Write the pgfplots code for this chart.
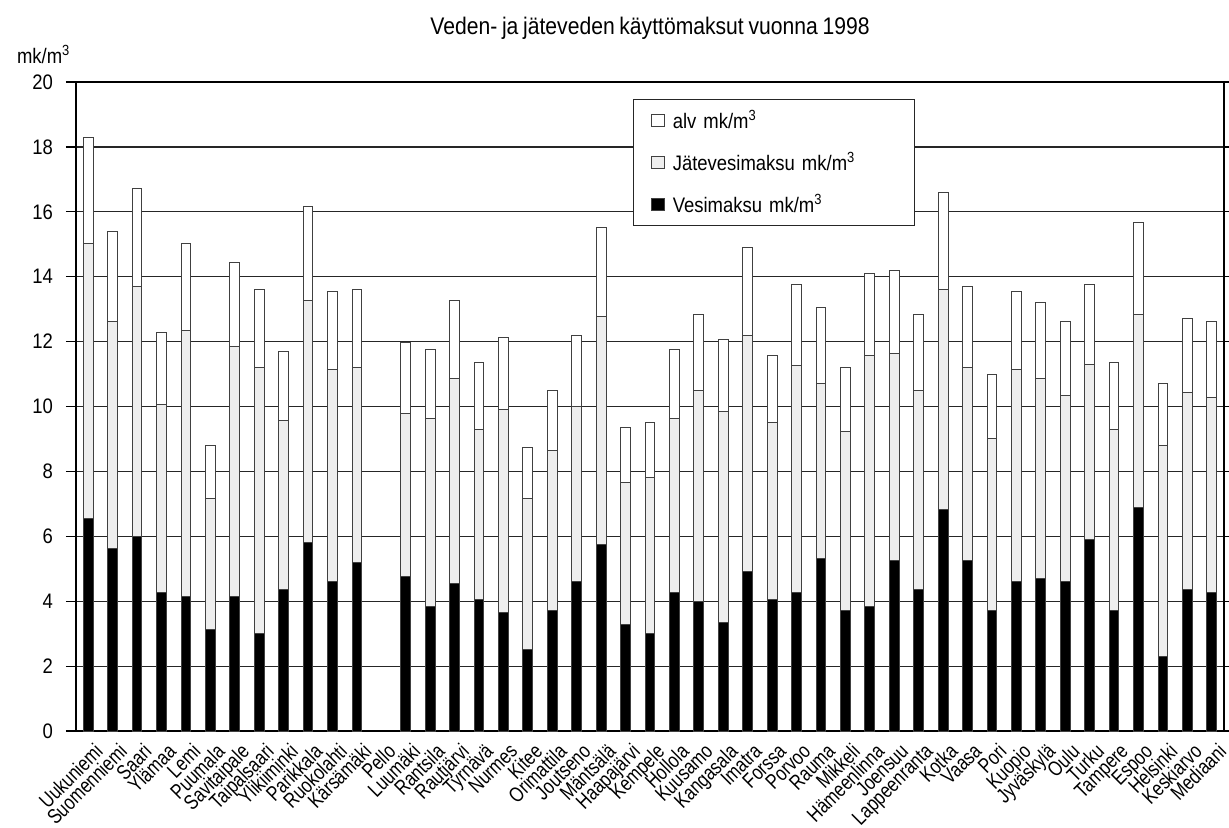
\documentclass[border=0pt]{standalone}
\usepackage{fontspec}
\setmainfont{Liberation Sans}[FakeStretch=0.88, WordSpace=0.8]
\newfontfamily\labelfont{Liberation Sans}[FakeStretch=0.8]
\usepackage{pgfplots}
\usepackage{pgfplotstable}
\pgfplotsset{compat=1.18}

% Water charges per municipality (mk/m3): water fee, wastewater fee, VAT
\pgfplotstableread{
x  vesi  jat   alv
0  6.54  8.49  3.27
1  5.62  6.99  2.78
2  5.98  7.71  3.03
3  4.27  5.80  2.20
4  4.13  8.21  2.69
5  3.13  4.03  1.64
6  4.13  7.71  2.61
7  3.00  8.21  2.40
8  4.35  5.22  2.13
9  5.82  7.44  2.90
10 4.62  6.53  2.39
11 5.19  6.02  2.40
12 0     0     0
13 4.77  5.02  2.19
14 3.84  5.80  2.13
15 4.55  6.31  2.40
16 4.06  5.23  2.06
17 3.64  6.28  2.20
18 2.51  4.65  1.57
19 3.70  4.95  1.85
20 4.62  5.38  2.20
21 5.76  7.01  2.75
22 3.28  4.39  1.69
23 3.00  4.81  1.69
24 4.27  5.37  2.13
25 3.99  6.51  2.34
26 3.35  6.51  2.19
27 4.91  7.28  2.70
28 4.06  5.44  2.06
29 4.27  7.00  2.48
30 5.33  5.38  2.34
31 3.71  5.51  1.99
32 3.84  7.72  2.54
33 5.26  6.38  2.54
34 4.35  6.15  2.34
35 6.83  6.78  2.98
36 5.26  5.95  2.48
37 3.71  5.30  1.98
38 4.62  6.51  2.41
39 4.69  6.17  2.33
40 4.62  5.73  2.28
41 5.90  5.38  2.47
42 3.71  5.58  2.06
43 6.89  5.95  2.82
44 2.29  6.50  1.92
45 4.35  6.08  2.27
46 4.27  6.02  2.34
}\maksut

\definecolor{jatgray}{HTML}{EEEEEE}
\definecolor{edge}{HTML}{404040}

\begin{document}
\begin{tikzpicture}
\useasboundingbox (-38pt,-48pt) rectangle (576.5pt,365.5pt);
\begin{axis}[
  name=ax,
  at={(0,0)}, anchor=south west,
  scale only axis,
  width=574pt, height=324.5pt,
  ybar stacked,
  bar width=0.4,
  xmin=-0.5, xmax=46.5,
  ymin=0, ymax=20,
  ytick={0,2,...,20},
  xtick={0,...,46},
  xticklabels={Uukuniemi,Suomenniemi,Saari,Ylämaa,Lemi,Puumala,Savitaipale,Taipalsaari,Ylikiiminki,Parikkala,Ruokolahti,Kärsämäki,Pello,Luumäki,Rantsila,Rautjärvi,Tyrnävä,Nurmes,Kitee,Orimattila,Joutseno,Mäntsälä,Haapajärvi,Kempele,Hollola,Kuusamo,Kangasala,Imatra,Forssa,Porvoo,Rauma,Mikkeli,Hämeenlinna,Joensuu,Lappeenranta,Kotka,Vaasa,Pori,Kuopio,Jyväskylä,Oulu,Turku,Tampere,Espoo,Helsinki,Keskiarvo,Mediaani},
  minor xtick={-0.5,0.5,...,46.5},
  xtick style={draw=none},
  minor x tick style={black, line width=0.6pt},
  minor tick length=3pt,
  major tick length=5pt,
  ytick style={black, line width=0.6pt},
  tick align=outside,
  ymajorgrids,
  major grid style={black!85, line width=0.6pt},
  axis line style={black, line width=0.6pt},
  /pgf/number format/assume math mode=true,
  tick label style={font=\fontsize{10.5}{12}\selectfont},
  yticklabel style={xshift=-3pt},
  xticklabel style={font=\labelfont\fontsize{10.5}{12}\selectfont, inner sep=0pt, xshift=2.5pt, yshift=-0.5pt, rotate=45, anchor=north east},
  title={Veden- ja jäteveden käyttömaksut vuonna 1998},
  title style={font=\fontsize{12}{14}\selectfont, anchor=base, at={(0.5,1)}, yshift=18pt},
  reverse legend,
  legend image code/.code={\draw[#1] (0pt,-3.15pt) rectangle (6.3pt,3.15pt);},
  legend style={at={(0.485,0.974)}, anchor=north west,
    draw=black!85, line width=0.6pt,
    inner xsep=9pt, inner ysep=0pt,
    font=\fontsize{10.5}{12}\selectfont,
    nodes={inner sep=0pt, minimum height=21pt, text width=112pt},
    /tikz/every odd column/.style={column sep=3.9pt}},
  legend cell align=left,
]
\addplot[fill=black, draw=edge, line width=0.5pt] table[x=x, y=vesi] {\maksut};
\addplot[fill=jatgray, draw=edge, line width=0.5pt] table[x=x, y=jat] {\maksut};
\addplot[fill=white, draw=edge, line width=0.5pt] table[x=x, y=alv] {\maksut};
\legend{Vesimaksu mk/m\textsuperscript{3}, Jätevesimaksu mk/m\textsuperscript{3}, alv mk/m\textsuperscript{3}}
\end{axis}
\node[anchor=base west, font=\fontsize{10.5}{12}\selectfont] at ([xshift=-33pt,yshift=9.5pt]ax.north west) {mk/m\textsuperscript{3}};
\end{tikzpicture}
\end{document}
